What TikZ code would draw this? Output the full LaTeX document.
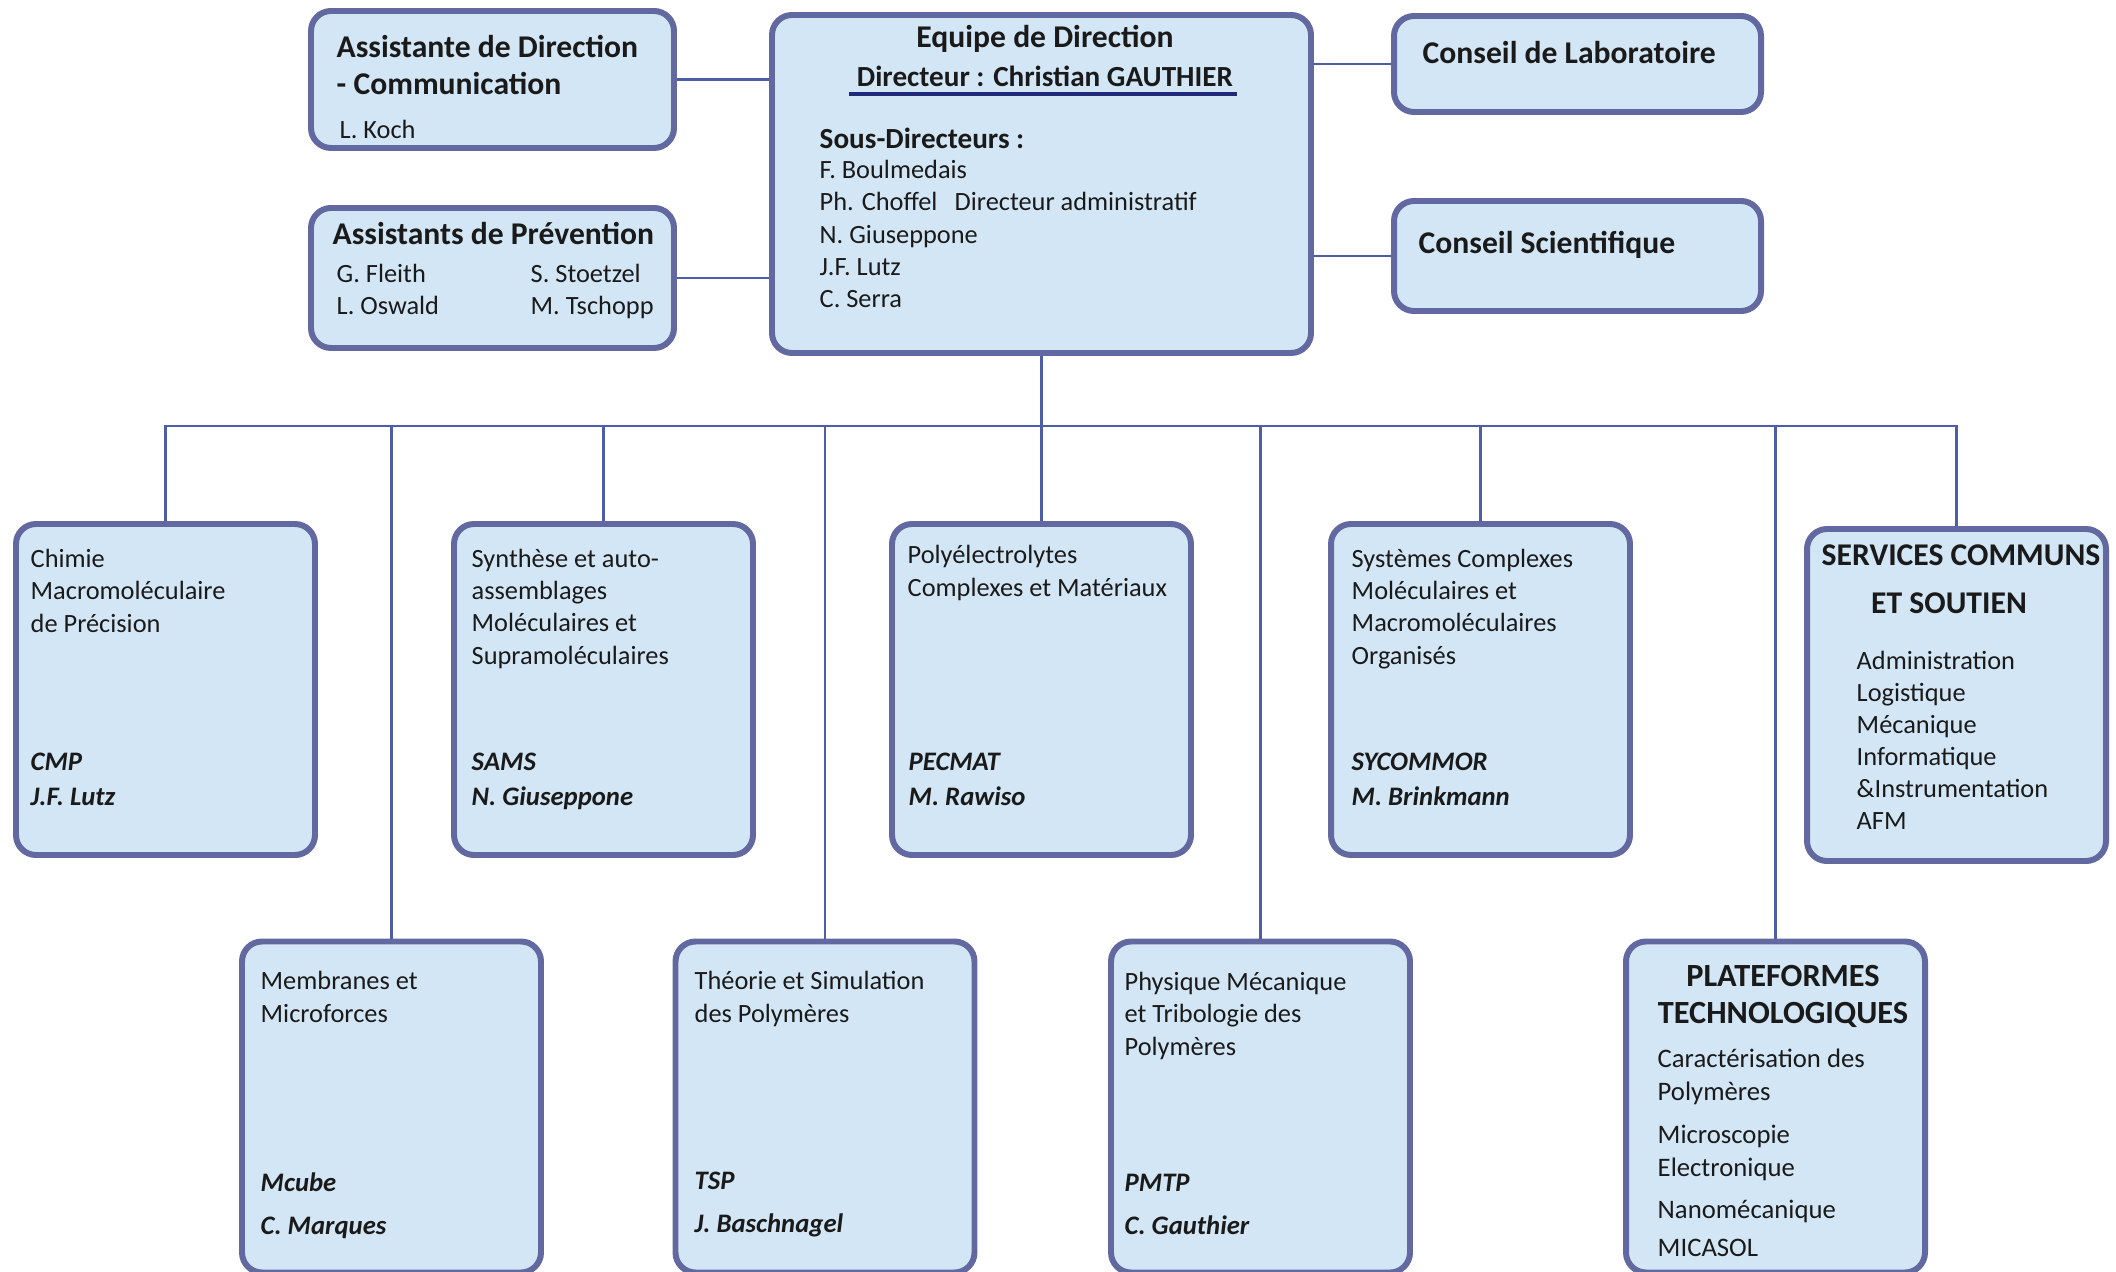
\documentclass[tikz,border=0pt]{standalone}
\usepackage{fontspec}
\setmainfont{Carlito}
\usepackage{tikz}

\definecolor{frame}{HTML}{6268A0}
\definecolor{cell}{HTML}{D3E6F5}
\definecolor{wire}{HTML}{4F5CA8}
\definecolor{ink}{HTML}{1A1A1A}
\definecolor{navy}{HTML}{1F2A78}

\begin{document}
\begin{tikzpicture}[x=0.1mm, y=-0.1mm, % one unit = one pixel of the sketch
	unit/.style={draw=frame, fill=cell, line width=1.7pt, rounded corners=2mm, inner sep=0pt},
	lab/.style={unit, minimum width=29.9mm, minimum height=33.1mm},
	head/.style={anchor=base west, align=left, inner sep=0pt, text=ink, font=\fontsize{9}{10.8}\selectfont\bfseries},
	body/.style={anchor=base west, align=left, inner sep=0pt, text=ink, font=\fontsize{7.5}{9.2}\selectfont},
	chief/.style={body, font=\fontsize{7.6}{9.7}\selectfont\bfseries\itshape},
	link/.style={draw=wire, line width=0.65pt}]
	\useasboundingbox (0,0) rectangle (2116,1272);

	% top level
	\node (assist) [unit, minimum width=36.3mm, minimum height=13.7mm] at (492.5,79.5) {};
	\node (prev)   [unit, minimum width=36.3mm, minimum height=14mm]   at (492.5,278) {};
	\node (equipe) [unit, minimum width=53.9mm, minimum height=33.8mm] at (1041.5,184) {};
	\node (labo)   [unit, minimum width=36.7mm, minimum height=9.6mm]  at (1577.5,64) {};
	\node (sci)    [unit, minimum width=36.7mm, minimum height=11mm]   at (1577.5,256) {};

	% teams
	\node (cmp)      [lab] at (165.5,689.5) {};
	\node (sams)     [lab] at (603.5,689.5) {};
	\node (pecmat)   [lab] at (1041.5,689.5) {};
	\node (sycommor) [lab] at (1480.5,689.5) {};
	\node (services) [lab, minimum height=33.2mm] at (1956.5,695) {};
	\node (mcube)    [lab] at (391.5,1107) {};
	\node (tsp)      [lab] at (825,1107) {};
	\node (pmtp)     [lab] at (1260.5,1107) {};
	\node (plat)     [lab] at (1775.5,1107) {};

	% connectors
	\coordinate (bus) at (0,426);
	\draw[link] (assist.east) -- (assist.east -| equipe.west);
	\draw[link] (prev.east) -- (prev.east -| equipe.west);
	\draw[link] (labo.west) -- (labo.west -| equipe.east);
	\draw[link] (sci.west) -- (sci.west -| equipe.east);
	\draw[link] (equipe.south) -- (equipe.south |- bus);
	\draw[link] (cmp.north) -- (cmp.north |- bus) -- (services.north |- bus) -- (services.north);
	\draw[link] (sams.north) -- (sams.north |- bus);
	\draw[link] (pecmat.north) -- (pecmat.north |- bus);
	\draw[link] (sycommor.north) -- (sycommor.north |- bus);
	\draw[link] (mcube.north) -- (mcube.north |- bus);
	\draw[link] (tsp.north) -- (tsp.north |- bus);
	\draw[link] (pmtp.north) -- (pmtp.north |- bus);
	\draw[link] (plat.north) -- (plat.north |- bus);

	% texts of the top level (base = last line)
	\node (assist-h) [head] at (336,95) {Assistante de Direction\\- Communication};
	\node (assist-b) [body] at (339,139) {L. Koch};
	\node (prev-h) [head] at (332,245) {Assistants de Prévention};
	\node (prev-b) [body] at (336,315) {\makebox[19.4mm][l]{G. Fleith}S. Stoetzel\\ \makebox[19.4mm][l]{L. Oswald}M. Tschopp};
	\node (equipe-h) [head, anchor=base] at (1045,48) {Equipe de Direction};
	\node (dir) [head, anchor=base, font=\fontsize{8.3}{10}\selectfont\bfseries] at (1045,87) {Directeur : Christian GAUTHIER};
	\draw[navy, line width=1pt] ([xshift=-2pt, yshift=-2pt]dir.base west) -- ([xshift=1pt, yshift=-2pt]dir.base east);
	\node (sous-h) [head, font=\fontsize{8.3}{10}\selectfont\bfseries] at (819,149) {Sous-Directeurs :};
	\node (sous-b) [body] at (819,308) {F. Boulmedais\\ \makebox[13.5mm][l]{Ph. Choffel}Directeur administratif\\N. Giuseppone\\J.F. Lutz\\C. Serra};
	\node (labo-h) [head] at (1422,64) {Conseil de Laboratoire};
	\node (sci-h) [head] at (1418,254) {Conseil Scientifique};

	% texts of the teams
	\node (cmp-b) [body] at (30,632) {Chimie\\Macromoléculaire\\de Précision};
	\node (cmp-c) [chief] at (30,805) {CMP\\J.F. Lutz};
	\node (sams-b) [body] at (471,664) {Synthèse et auto-\\assemblages\\Moléculaires et\\Supramoléculaires};
	\node (sams-c) [chief] at (471,805) {SAMS\\N. Giuseppone};
	\node (pecmat-b) [body] at (907,596) {Polyélectrolytes\\Complexes et Matériaux};
	\node (pecmat-c) [chief] at (908,805) {PECMAT\\M. Rawiso};
	\node (sycommor-b) [body] at (1351,664) {Systèmes Complexes\\Moléculaires et\\Macromoléculaires\\Organisés};
	\node (sycommor-c) [chief] at (1351,805) {SYCOMMOR\\M. Brinkmann};
	\node (services-h) [head, anchor=base] at (1961,565) {SERVICES COMMUNS};
	\node (services-h2) [head, anchor=base] at (1949,613) {ET SOUTIEN};
	\node (services-b) [body, font=\fontsize{7.5}{9.1}\selectfont] at (1856,829) {Administration\\Logistique\\Mécanique\\Informatique\\\&Instrumentation\\AFM};

	\node (mcube-b) [body] at (260,1022) {Membranes et\\Microforces};
	\node (mcube-c) [chief, font=\fontsize{7.6}{12.2}\selectfont\bfseries\itshape] at (260,1234) {Mcube\\C. Marques};
	\node (tsp-b) [body] at (694,1022) {Théorie et Simulation\\des Polymères};
	\node (tsp-c) [chief, font=\fontsize{7.6}{12.2}\selectfont\bfseries\itshape] at (694,1232) {TSP\\J. Baschnagel};
	\node (pmtp-b) [body] at (1124,1055) {Physique Mécanique\\et Tribologie des\\Polymères};
	\node (pmtp-c) [chief, font=\fontsize{7.6}{12.2}\selectfont\bfseries\itshape] at (1124,1234) {PMTP\\C. Gauthier};
	\node (plat-h) [head, anchor=base, align=center, font=\fontsize{9.2}{10.5}\selectfont\bfseries] at (1783,1023) {PLATEFORMES\\TECHNOLOGIQUES};
	\node (plat-b) [body, font=\fontsize{7.6}{9.4}\selectfont] at (1657,1256) {Caractérisation des\\Polymères\\[3pt]Microscopie\\Electronique\\[2.3pt]Nanomécanique\\[1.4pt]MICASOL};

\end{tikzpicture}
\end{document}
